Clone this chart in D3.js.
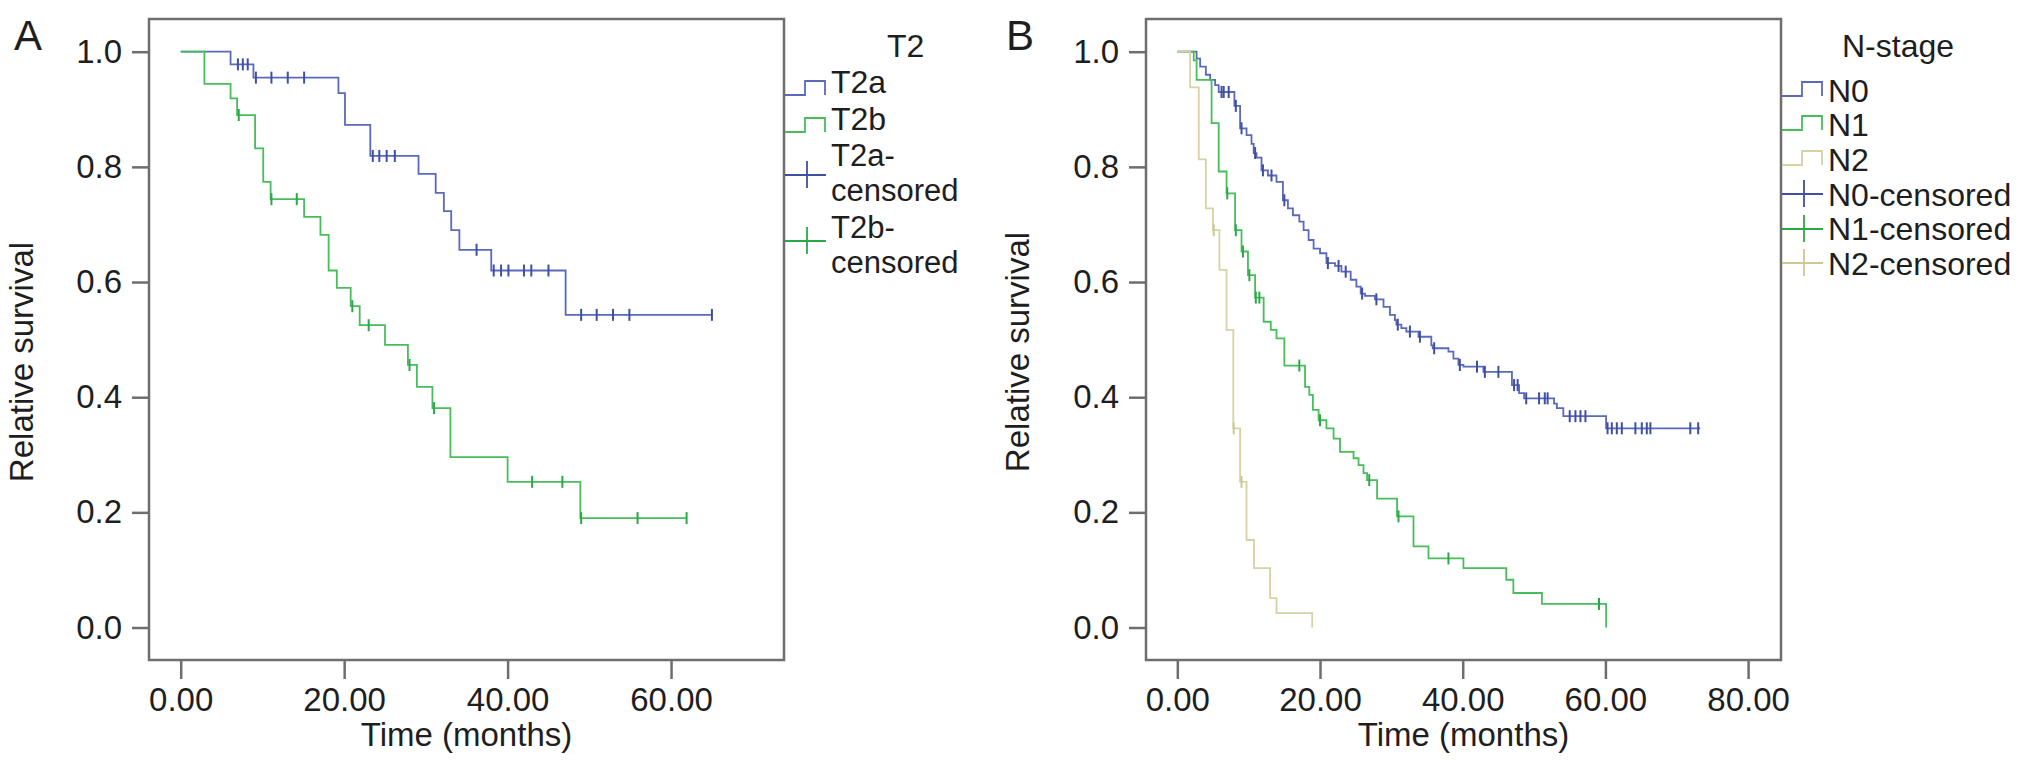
<!DOCTYPE html>
<html>
<head>
<meta charset="utf-8">
<script src="https://cdn.jsdelivr.net/npm/d3@7"></script>
<style>
  html, body { margin: 0; padding: 0; background: #fff; }
  svg { display: block; font-family: "Liberation Sans", Arial, Helvetica, sans-serif; }
</style>
</head>
<body>
<svg id="viz" width="2032" height="767"></svg>
<script>
/*
|--------------------------------------------------------------------------
| Data (months / relative survival)
|--------------------------------------------------------------------------
*/

// Panel A : T2
const t2aTimes = [6.1, 8.9, 19.3, 20.1, 23.2, 29.1, 31.2, 32.2, 33.1, 34.1, 38.0, 47.1];
const t2aSurv = [0.978, 0.955, 0.928, 0.873, 0.819, 0.788, 0.755, 0.723, 0.690, 0.656, 0.620, 0.543];
const t2aCensor = [7.0, 7.6, 8.2, 9.2, 11.1, 13.1, 15.1, 23.5, 24.3, 25.2, 26.2, 36.2,
  38.3, 39.2, 40.1, 42.0, 42.9, 45.0, 49.0, 50.9, 52.9, 54.9, 65.0];
const t2aEnd = 65.0;

const t2bTimes = [2.9, 6.1, 6.9, 9.1, 10.1, 11.0, 15.1, 17.1, 18.1, 19.1, 20.8, 21.9,
  25.0, 27.8, 28.9, 30.8, 33.0, 40.0, 48.9];
const t2bSurv = [0.944, 0.919, 0.890, 0.832, 0.774, 0.744, 0.713, 0.682, 0.620, 0.590, 0.558, 0.525,
  0.491, 0.456, 0.418, 0.381, 0.296, 0.253, 0.190];
const t2bCensor = [7.1, 11.1, 14.2, 21.0, 23.0, 28.0, 31.0, 43.0, 46.7, 49.0, 55.9, 61.9];
const t2bEnd = 61.9;

// Panel B : N-stage
const n0Times = [2.7, 3.2, 4.0, 4.6, 5.3, 5.8, 8.0, 8.8, 9.7, 10.4, 10.7, 11.1, 11.8, 12.7,
  13.9, 14.8, 15.5, 16.2, 17.1, 17.7, 18.4, 19.1, 20.0, 20.9, 22.1, 23.0, 24.3, 25.1, 25.7,
  26.3, 27.7, 28.9, 29.8, 30.5, 30.7, 31.4, 32.1, 33.8, 35.6, 35.8, 38.0, 38.7, 39.4, 40.1,
  42.9, 46.9, 47.9, 48.6, 52.8, 53.2, 54.1, 60.1];
const n0Surv = [0.988, 0.974, 0.960, 0.951, 0.942, 0.930, 0.906, 0.867, 0.855, 0.840, 0.824, 0.816,
  0.794, 0.785, 0.774, 0.742, 0.728, 0.716, 0.705, 0.690, 0.673, 0.658, 0.650, 0.633, 0.628,
  0.618, 0.604, 0.592, 0.580, 0.576, 0.570, 0.557, 0.543, 0.534, 0.526, 0.520, 0.514, 0.505,
  0.490, 0.485, 0.479, 0.467, 0.456, 0.453, 0.444, 0.421, 0.407, 0.398, 0.389, 0.381, 0.367, 0.346];
const n0Censor = [6.2, 6.5, 7.2, 8.2, 9.0, 10.9, 12.0, 13.2, 15.0, 21.1, 22.6, 23.6, 25.9, 27.9,
  30.9, 32.6, 34.0, 36.0, 39.6, 42.0, 43.1, 45.0, 47.2, 47.7, 48.9, 50.7, 51.5, 51.9, 55.0,
  55.8, 56.5, 57.2, 60.3, 60.9, 61.6, 62.3, 64.2, 65.1, 65.8, 66.3, 71.9, 73.0];
const n0End = 73.3;

const n1Times = [2.3, 2.7, 4.8, 5.8, 6.9, 8.1, 9.0, 9.9, 10.9, 12.1, 13.1, 13.9, 15.0, 17.9,
  18.5, 19.0, 19.8, 20.9, 21.9, 22.8, 24.7, 25.4, 26.1, 26.6, 28.0, 30.8, 33.1, 35.2, 40.1,
  46.1, 47.1, 51.1, 60.1];
const n1Surv = [0.985, 0.951, 0.876, 0.792, 0.754, 0.690, 0.653, 0.612, 0.573, 0.531, 0.517, 0.502,
  0.455, 0.418, 0.404, 0.378, 0.360, 0.346, 0.328, 0.305, 0.294, 0.282, 0.268, 0.256, 0.224,
  0.193, 0.141, 0.120, 0.103, 0.083, 0.060, 0.041, 0.0];
const n1Censor = [7.0, 8.2, 9.2, 10.1, 11.0, 11.5, 17.1, 20.0, 26.9, 31.0, 38.0, 59.1];
const n1End = 60.1;

const n2Times = [1.8, 3.0, 4.0, 5.0, 5.9, 6.9, 7.85, 8.8, 9.7, 10.75, 13.0, 13.9, 18.9];
const n2Surv = [0.938, 0.813, 0.728, 0.690, 0.621, 0.517, 0.346, 0.253, 0.152, 0.103, 0.051, 0.025, 0.0];
const n2Censor = [5.1, 7.9, 9.0];
const n2End = 18.9;

// Tick labels
const yTicks = [0, 0.2, 0.4, 0.6, 0.8, 1.0];
const xTicksA = [0, 20, 40, 60];
const xTicksB = [0, 20, 40, 60, 80];

(function () {
  "use strict";

  /*
  |--------------------------------------------------------------------------
  | Layout settings
  |--------------------------------------------------------------------------
  */

  let font = {
    tick: 33,
    title: 33,
    legend: 32,
    legendWrap: 31, // wrapped legend labels
    letter: 42
  };

  let colors = {
    blue: "#5b69bd",
    green: "#47bd5b",
    beige: "#d5d2a3",
    blueMark: "#3f4fa5",
    greenMark: "#2ca947",
    beigeMark: "#cdc993",
    frame: "#6e6e6e",
    text: "#1e1e1e"
  };

  // y range in the frame is a bit larger than 0..1
  let yDomain = [-0.0564, 1.0568];

  let wrapGap = 35;

  let panels = [
    {
      letter: "A",
      letterX: 14,
      frame: { left: 149, right: 784, top: 19, bottom: 660 },
      xDomain: [-3.88, 73.82],
      xTicks: xTicksA,
      yLabelX: 33,
      yLabelY: 362,
      legendTitle: "T2",
      titleX: 887,
      series: [
        { name: "T2a", color: colors.blue, mark: colors.blueMark, times: t2aTimes, surv: t2aSurv, censor: t2aCensor, end: t2aEnd },
        { name: "T2b", color: colors.green, mark: colors.greenMark, times: t2bTimes, surv: t2bSurv, censor: t2bCensor, end: t2bEnd }
      ],
      legend: [
        { kind: "step", color: colors.blue, lines: ["T2a"], base: 93, sym: 95 },
        { kind: "step", color: colors.green, lines: ["T2b"], base: 130, sym: 132 },
        { kind: "cens", color: colors.blueMark, lines: ["T2a-", "censored"], base: 166, sym: 175 },
        { kind: "cens", color: colors.greenMark, lines: ["T2b-", "censored"], base: 238, sym: 241 }
      ]
    },
    {
      letter: "B",
      letterX: 1006,
      frame: { left: 1146, right: 1781, top: 19, bottom: 660 },
      xDomain: [-4.39, 84.61],
      xTicks: xTicksB,
      yLabelX: 1029,
      yLabelY: 352,
      legendTitle: "N-stage",
      titleX: 1842,
      series: [
        { name: "N0", color: colors.blue, mark: colors.blueMark, times: n0Times, surv: n0Surv, censor: n0Censor, end: n0End },
        { name: "N1", color: colors.green, mark: colors.greenMark, times: n1Times, surv: n1Surv, censor: n1Censor, end: n1End },
        { name: "N2", color: colors.beige, mark: colors.beigeMark, times: n2Times, surv: n2Surv, censor: n2Censor, end: n2End }
      ],
      legend: [
        { kind: "step", color: colors.blue, lines: ["N0"], base: 102, sym: 96 },
        { kind: "step", color: colors.green, lines: ["N1"], base: 136, sym: 130 },
        { kind: "step", color: colors.beige, lines: ["N2"], base: 171, sym: 165 },
        { kind: "cens", color: colors.blueMark, lines: ["N0-censored"], base: 206, sym: 194 },
        { kind: "cens", color: colors.greenMark, lines: ["N1-censored"], base: 240, sym: 229 },
        { kind: "cens", color: colors.beigeMark, lines: ["N2-censored"], base: 275, sym: 263 }
      ]
    }
  ];

  let svg = d3.select("#viz");

  // Survival value at time t (step function)
  function survAt(s, t) {
    let v = 1;
    s.times.forEach((tt, i) => { if (tt <= t + 1e-9) v = s.surv[i]; });
    return v;
  }

  panels.forEach(function (p) {
    let f = p.frame;

    /*
    |--------------------------------------------------------------------------
    | Scales
    |--------------------------------------------------------------------------
    */

    let x = d3.scaleLinear().domain(p.xDomain).range([f.left, f.right]);
    let y = d3.scaleLinear().domain(yDomain).range([f.bottom, f.top]);

    let g = svg.append("g");

    // Panel letter
    g.append("text")
      .attr("x", p.letterX)
      .attr("y", 50)
      .attr("font-size", font.letter)
      .attr("fill", colors.text)
      .text(p.letter);

    /*
    |--------------------------------------------------------------------------
    | Axes
    |--------------------------------------------------------------------------
    */

    let yAxis = g.append("g")
      .attr("transform", `translate(${f.left},0)`)
      .call(d3.axisLeft(y).tickValues(yTicks).tickSize(17).tickPadding(10).tickFormat(d3.format(".1f")));

    let xAxis = g.append("g")
      .attr("transform", `translate(0,${f.bottom})`)
      .call(d3.axisBottom(x).tickValues(p.xTicks).tickSize(19).tickFormat(d3.format(".2f")));

    [yAxis, xAxis].forEach(a => {
      a.select(".domain").remove();
      a.selectAll("line").attr("stroke", colors.frame).attr("stroke-width", 2.5);
      a.selectAll("text")
        .attr("font-size", font.tick)
        .attr("font-family", null)
        .attr("fill", colors.text);
    });
    xAxis.selectAll("text").attr("dy", null).attr("y", 51);

    // Frame
    g.append("rect")
      .attr("x", f.left)
      .attr("y", f.top)
      .attr("width", f.right - f.left)
      .attr("height", f.bottom - f.top)
      .attr("fill", "none")
      .attr("stroke", colors.frame)
      .attr("stroke-width", 2.5);

    // Axis titles
    g.append("text")
      .attr("x", (f.left + f.right) / 2)
      .attr("y", 746)
      .attr("text-anchor", "middle")
      .attr("font-size", font.title)
      .attr("fill", colors.text)
      .text("Time (months)");

    g.append("text")
      .attr("transform", `translate(${p.yLabelX},${p.yLabelY}) rotate(-90)`)
      .attr("text-anchor", "middle")
      .attr("font-size", font.title)
      .attr("fill", colors.text)
      .text("Relative survival");

    /*
    |--------------------------------------------------------------------------
    | Survival curves
    |--------------------------------------------------------------------------
    */

    let line = d3.line()
      .x(d => x(d[0]))
      .y(d => y(d[1]))
      .curve(d3.curveStepAfter);

    p.series.forEach(function (s) {
      let pts = [[0, 1]].concat(s.times.map((t, i) => [t, s.surv[i]]));
      pts.push([s.end, survAt(s, s.end)]);

      g.append("path")
        .attr("d", line(pts))
        .attr("fill", "none")
        .attr("stroke", s.color)
        .attr("stroke-width", 1.8);

      g.selectAll(null)
        .data(s.censor)
        .enter()
        .append("line")
        .attr("x1", d => x(d))
        .attr("x2", d => x(d))
        .attr("y1", d => y(survAt(s, d)) - 6)
        .attr("y2", d => y(survAt(s, d)) + 6)
        .attr("stroke", s.mark)
        .attr("stroke-width", 2);
    });

    /*
    |--------------------------------------------------------------------------
    | Legend
    |--------------------------------------------------------------------------
    */

    let lx = f.right + 1;
    let tx = f.right + 47;

    g.append("text")
      .attr("x", p.titleX)
      .attr("y", 57)
      .attr("font-size", font.legend)
      .attr("fill", colors.text)
      .text(p.legendTitle);

    p.legend.forEach(function (item) {
      if (item.kind === "step") {
        let b = item.sym, t = item.sym - 14;
        g.append("path")
          .attr("d", `M${lx},${b}H${lx + 20}V${t}H${lx + 40}V${b}`)
          .attr("fill", "none")
          .attr("stroke", item.color)
          .attr("stroke-width", 1.8);
      } else {
        let cy = item.sym;
        g.append("path")
          .attr("d", `M${lx},${cy}H${lx + 41}M${lx + 22},${cy - 14}V${cy + 13}`)
          .attr("fill", "none")
          .attr("stroke", item.color)
          .attr("stroke-width", 1.8);
      }

      let size = item.lines.length > 1 ? font.legendWrap : font.legend;
      item.lines.forEach((txt, k) => {
        g.append("text")
          .attr("x", tx)
          .attr("y", item.base + k * wrapGap)
          .attr("font-size", size)
          .attr("fill", colors.text)
          .text(txt);
      });
    });
  });

})();
</script>
</body>
</html>
